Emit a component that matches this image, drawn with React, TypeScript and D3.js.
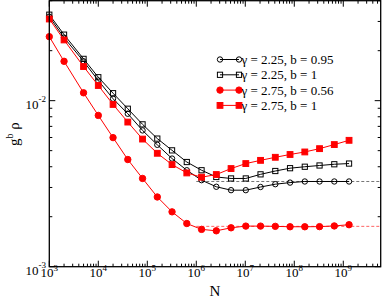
import React, { useEffect, useRef } from 'react';
import * as d3 from 'd3';

// system sizes N
const sizes = [1e3, 2e3, 5e3, 1e4, 2e4, 4e4, 8e4, 1.6e5, 3.2e5, 6.4e5, 1.28e6, 2.56e6, 5.12e6,
  1.024e7, 2.048e7, 4.096e7, 8.192e7, 1.6384e8, 3.2768e8, 6.5536e8, 1.31072e9];

// g^b rho for each (gamma, b)
const g225b095 = [0.03204, 0.02397, 0.01727, 0.01322, 0.01027, 0.00834, 0.00662, 0.00542, 0.00448,
  0.00381, 0.00332, 0.00303, 0.00289, 0.00289, 0.00302, 0.00314, 0.00321, 0.00326, 0.00326, 0.00326, 0.00326];
const g225b1 = [0.03294, 0.02498, 0.01785, 0.01384, 0.01109, 0.00894, 0.0072, 0.00591, 0.00502,
  0.00427, 0.00381, 0.00347, 0.0034, 0.0034, 0.0036, 0.00377, 0.00392, 0.004, 0.00407, 0.00414, 0.00418];
const g275b056 = [0.0243, 0.01726, 0.01115, 0.00815, 0.00599, 0.00442, 0.0034, 0.00263, 0.00214,
  0.00182, 0.001678, 0.001645, 0.001715, 0.001756, 0.001756, 0.00175, 0.00174, 0.00174, 0.001743, 0.00176, 0.00179];
const g275b1 = [0.03103, 0.02321, 0.01605, 0.01234, 0.00949, 0.00743, 0.00587, 0.00482, 0.00412,
  0.00367, 0.00346, 0.00359, 0.0039, 0.00418, 0.00437, 0.00456, 0.00474, 0.00491, 0.00514, 0.00544, 0.00577];

const legendLabels = ['γ = 2.25, b = 0.95', 'γ = 2.25, b = 1', 'γ = 2.75, b = 0.56', 'γ = 2.75, b = 1'];

// asymptotic plateaus (dashed)
const plateauStart = 1e6;
const plateau225 = 0.00326;
const plateau275 = 0.00175;

const xTickExps = [3, 4, 5, 6, 7, 8, 9];
const yTickExps = [-3, -2];

function App() {
  const ref = useRef(null);
  const width = 382;
  const height = 300;
  const left = 49.3, right = 380.7, top = 0.7, bottom = 266.7;
  const font = "'Liberation Serif', 'Times New Roman', serif";

  useEffect(() => {
    const svg = d3.select(ref.current);
    svg.selectAll('*').remove();

    const x = d3.scaleLog().domain([1e3, 5.8e9]).range([left, right]);
    const y = d3.scaleLog().domain([1e-3, 4e-2]).range([bottom, top]);

    // ticks
    const xMinor = [];
    for (let e = 3; e <= 9; e++) for (let k = 2; k <= 9; k++) {
      const v = k * Math.pow(10, e);
      if (v < 5.8e9) xMinor.push(v);
    }
    const yMinor = [];
    for (let e = -3; e <= -2; e++) for (let k = 2; k <= 9; k++) {
      const v = k * Math.pow(10, e);
      if (v <= 4e-2) yMinor.push(v);
    }
    const xMajor = xTickExps.map(e => Math.pow(10, e));
    const yMajor = yTickExps.map(e => Math.pow(10, e));

    const tk = svg.append('g').attr('stroke', '#000').attr('stroke-width', 1);
    const addX = (vals, len) => {
      vals.forEach(v => {
        tk.append('line').attr('x1', x(v)).attr('x2', x(v)).attr('y1', bottom).attr('y2', bottom - len);
        tk.append('line').attr('x1', x(v)).attr('x2', x(v)).attr('y1', top).attr('y2', top + len);
      });
    };
    const addY = (vals, len) => {
      vals.forEach(v => {
        tk.append('line').attr('y1', y(v)).attr('y2', y(v)).attr('x1', left).attr('x2', left + len);
        tk.append('line').attr('y1', y(v)).attr('y2', y(v)).attr('x1', right).attr('x2', right - len);
      });
    };
    addX(xMinor, 3);
    addX(xMajor, 6);
    addY(yMinor, 3);
    addY(yMajor, 6);

    // tick labels
    svg.selectAll('.xlab').data(xTickExps).join('text')
      .attr('class', 'xlab')
      .attr('x', d => x(Math.pow(10, d)))
      .attr('y', 277)
      .attr('text-anchor', 'middle')
      .style('font-family', font)
      .style('font-size', '13px')
      .each(function (d) {
        const t = d3.select(this);
        t.append('tspan').text('10');
        t.append('tspan').attr('dy', -6).style('font-size', '9px').text(d);
      });

    svg.selectAll('.ylab').data(yTickExps).join('text')
      .attr('class', 'ylab')
      .attr('x', 46)
      .attr('y', d => y(Math.pow(10, d)) + 8)
      .attr('text-anchor', 'end')
      .style('font-family', font)
      .style('font-size', '13px')
      .each(function (d) {
        const t = d3.select(this);
        t.append('tspan').text('10');
        t.append('tspan').attr('dy', -7).style('font-size', '9px').text(d);
      });

    // axis titles
    svg.append('text')
      .attr('x', (left + right) / 2)
      .attr('y', 296)
      .attr('text-anchor', 'middle')
      .style('font-family', font)
      .style('font-size', '15px')
      .text('N');

    const yt = svg.append('text')
      .attr('transform', `translate(19,${134}) rotate(-90)`)
      .attr('text-anchor', 'middle')
      .style('font-family', font)
      .style('font-size', '15px');
    yt.append('tspan').text('g');
    yt.append('tspan').attr('dy', -6).style('font-size', '10px').text('b');
    yt.append('tspan').attr('dy', 6).text(' ρ');

    // dashed plateaus
    svg.append('line')
      .attr('x1', x(plateauStart)).attr('x2', right)
      .attr('y1', y(plateau225)).attr('y2', y(plateau225))
      .attr('stroke', '#666').attr('stroke-width', 0.9).attr('stroke-dasharray', '3,2');
    svg.append('line')
      .attr('x1', x(plateauStart)).attr('x2', right)
      .attr('y1', y(plateau275)).attr('y2', y(plateau275))
      .attr('stroke', '#ff5050').attr('stroke-width', 0.9).attr('stroke-dasharray', '3,2');

    const series = [
      { values: g225b095, color: '#000', shape: 'circle', filled: false },
      { values: g225b1, color: '#000', shape: 'square', filled: false },
      { values: g275b056, color: '#ff0000', shape: 'circle', filled: true },
      { values: g275b1, color: '#ff0000', shape: 'square', filled: true },
    ];

    const line = d3.line().x((d, i) => x(sizes[i])).y(d => y(d));

    const drawMarker = (g, cx, cy, s) => {
      if (s.shape === 'circle') {
        g.append('circle').attr('cx', cx).attr('cy', cy).attr('r', s.filled ? 3.2 : 2.7)
          .attr('fill', s.filled ? s.color : 'none').attr('stroke', s.color).attr('stroke-width', 1);
      } else {
        const h = s.filled ? 2.9 : 2.6;
        g.append('rect').attr('x', cx - h).attr('y', cy - h).attr('width', 2 * h).attr('height', 2 * h)
          .attr('fill', s.filled ? s.color : 'none').attr('stroke', s.color).attr('stroke-width', 1);
      }
    };

    series.forEach(s => {
      svg.append('path').datum(s.values).attr('d', line)
        .attr('fill', 'none').attr('stroke', s.color).attr('stroke-width', 1);
      const g = svg.append('g');
      s.values.forEach((v, i) => drawMarker(g, x(sizes[i]), y(v), s));
    });

    // legend
    const lg = svg.append('g');
    series.forEach((s, i) => {
      const cy = 59.5 + i * 15.3;
      lg.append('line').attr('x1', 220).attr('x2', 239).attr('y1', cy).attr('y2', cy)
        .attr('stroke', s.color).attr('stroke-width', 1);
      drawMarker(lg, 220, cy, s);
      drawMarker(lg, 239, cy, s);
      lg.append('text').attr('x', 241.5).attr('y', cy + 4.5)
        .style('font-family', font).style('font-size', '13px')
        .text(legendLabels[i]);
    });

    // frame
    svg.append('rect')
      .attr('x', left).attr('y', top)
      .attr('width', right - left).attr('height', bottom - top)
      .attr('fill', 'none').attr('stroke', '#000').attr('stroke-width', 1.3);
  }, []);

  return <svg ref={ref} width={width} height={height} style={{ position: 'absolute', left: 0, top: 0 }} />;
}

export default App;
